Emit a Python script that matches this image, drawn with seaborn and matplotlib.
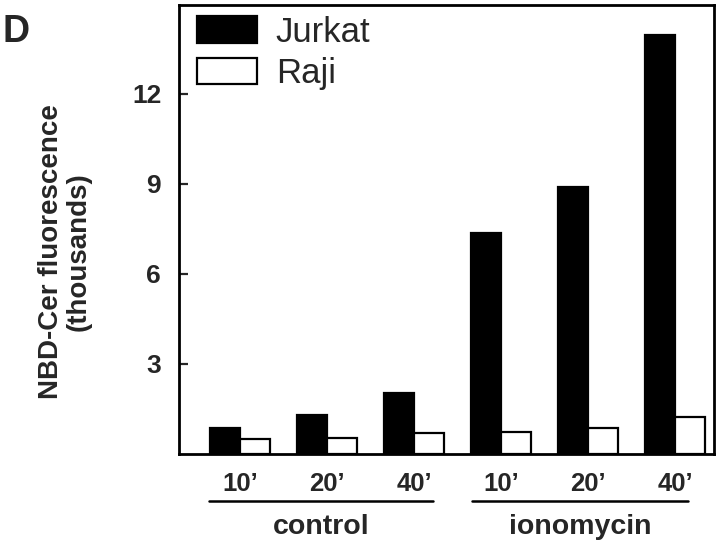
"""Panel D: NBD-Cer fluorescence in Jurkat vs Raji cells, control vs ionomycin."""
import matplotlib

matplotlib.use("Agg")
import matplotlib.pyplot as plt
import matplotlib.transforms as mtransforms
import pandas as pd
import seaborn as sns

CONDITIONS = ["control", "control", "control", "ionomycin", "ionomycin", "ionomycin"]
TIMES = ["10’", "20’", "40’", "10’", "20’", "40’"]
JURKAT = [0.88, 1.30, 2.02, 7.35, 8.90, 13.95]
RAJI = [0.49, 0.54, 0.69, 0.74, 0.86, 1.23]
Y_TICKS = [3, 6, 9, 12]

sns.set_style("ticks")
plt.rcParams["font.family"] = ["Liberation Sans", "DejaVu Sans"]

keys = [f"{c} {t}" for c, t in zip(CONDITIONS, TIMES)]
df = pd.DataFrame(
    {
        "key": keys * 2,
        "value": JURKAT + RAJI,
        "cell": ["Jurkat"] * len(keys) + ["Raji"] * len(keys),
    }
)

fig = plt.figure(figsize=(7.2, 5.4), dpi=100)
ax = fig.add_axes([0.249, 0.159, 0.743, 0.832])
sns.barplot(
    data=df,
    x="key",
    y="value",
    hue="cell",
    order=keys,
    palette={"Jurkat": "black", "Raji": "white"},
    edgecolor="black",
    linewidth=1.6,
    width=0.69,
    gap=0,
    saturation=1,
    ax=ax,
)

ax.set_xlim(-0.70, 5.45)
ax.set_ylim(0, 14.95)
ax.set_yticks(Y_TICKS)
ax.set_yticklabels([str(v) for v in Y_TICKS], fontsize=19, fontweight="bold")
ax.set_xticks(range(len(keys)))
ax.set_xticklabels(TIMES, fontsize=18.5, fontweight="bold")
ax.tick_params(axis="y", direction="in", length=6.5, width=1.6, pad=13)
ax.tick_params(axis="x", length=0, pad=13)
for s in ax.spines.values():
    s.set_linewidth(2)
    s.set_color("black")
ax.set_xlabel("")
ax.set_ylabel(
    "NBD-Cer fluorescence\n(thousands)", fontsize=20, fontweight="bold", linespacing=1.1
)
ax.yaxis.set_label_coords(-0.163, 0.45)

# group brackets under the time labels
tr = mtransforms.blended_transform_factory(ax.transData, ax.transAxes)
for x0, x1, name in [(-0.36, 2.22, "control"), (2.67, 5.15, "ionomycin")]:
    ax.plot([x0, x1], [-0.105, -0.105], color="black", lw=1.8, transform=tr, clip_on=False)
    ax.text((x0 + x1) / 2, -0.162, name, transform=tr, ha="center", va="center",
            fontsize=20.5, fontweight="bold")

handles, labels = ax.get_legend_handles_labels()
ax.legend(
    handles,
    labels,
    loc="upper left",
    bbox_to_anchor=(0.007, 1.007),
    frameon=False,
    fontsize=25,
    handlelength=1.72,
    handleheight=0.8,
    handletextpad=0.55,
    labelspacing=0.25,
    borderaxespad=0.2,
    borderpad=0.2,
)

fig.text(0.003, 0.975, "D", fontsize=27, fontweight="bold", va="top", ha="left")

fig.savefig("out.png", dpi=100)
